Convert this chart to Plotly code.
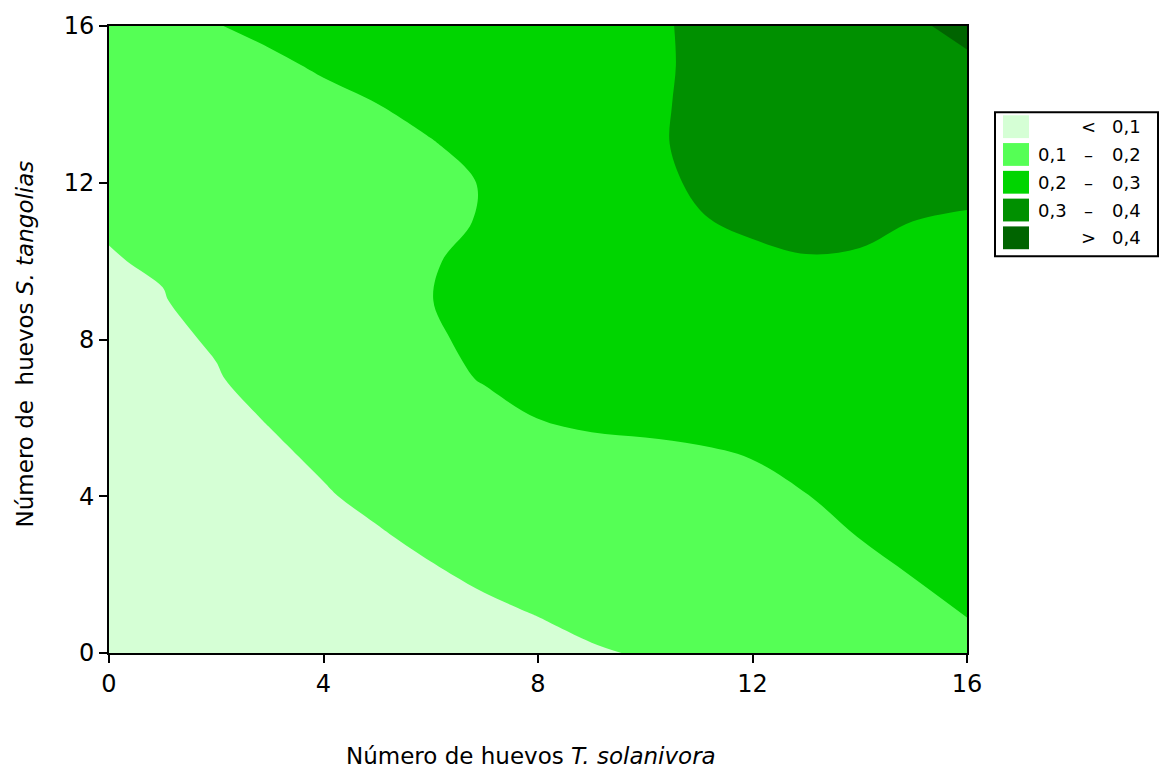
import plotly.graph_objects as go

# ---------------- data ----------------
x_vals = list(range(0, 17))          # Número de huevos T. solanivora
y_vals = list(range(0, 17))          # Número de huevos S. tangolias

z_y00 = [0.030,0.037,0.044,0.052,0.059,0.066,0.073,0.081,0.088,0.095,0.104,0.119,0.133,0.147,0.161,0.176,0.190]
z_y01 = [0.037,0.045,0.053,0.061,0.069,0.077,0.085,0.093,0.101,0.114,0.126,0.138,0.151,0.163,0.175,0.188,0.201]
z_y02 = [0.043,0.052,0.061,0.069,0.078,0.087,0.096,0.106,0.118,0.130,0.142,0.154,0.165,0.177,0.189,0.201,0.213]
z_y03 = [0.050,0.059,0.069,0.078,0.088,0.097,0.108,0.120,0.131,0.143,0.155,0.166,0.178,0.190,0.201,0.213,0.225]
z_y04 = [0.057,0.067,0.077,0.087,0.097,0.108,0.120,0.131,0.143,0.154,0.166,0.177,0.189,0.199,0.211,0.223,0.235]
z_y05 = [0.063,0.073,0.084,0.094,0.105,0.117,0.129,0.141,0.153,0.165,0.177,0.189,0.201,0.213,0.225,0.237,0.249]
z_y06 = [0.070,0.080,0.091,0.102,0.122,0.141,0.161,0.180,0.201,0.220,0.223,0.225,0.232,0.238,0.245,0.252,0.260]
z_y07 = [0.077,0.087,0.097,0.116,0.138,0.160,0.182,0.204,0.215,0.225,0.232,0.238,0.245,0.252,0.260,0.268,0.276]
z_y08 = [0.083,0.092,0.104,0.127,0.149,0.171,0.193,0.212,0.225,0.235,0.243,0.250,0.257,0.265,0.272,0.280,0.288]
z_y09 = [0.090,0.098,0.117,0.137,0.158,0.179,0.199,0.220,0.235,0.247,0.257,0.265,0.273,0.280,0.285,0.290,0.295]
z_y10 = [0.098,0.104,0.126,0.143,0.161,0.178,0.196,0.215,0.232,0.247,0.260,0.272,0.287,0.296,0.294,0.293,0.295]
z_y11 = [0.103,0.117,0.132,0.146,0.161,0.175,0.190,0.203,0.229,0.251,0.273,0.296,0.310,0.318,0.312,0.2995,0.290]
z_y12 = [0.110,0.123,0.136,0.149,0.163,0.176,0.189,0.202,0.230,0.256,0.282,0.308,0.322,0.330,0.332,0.330,0.323]
z_y13 = [0.118,0.131,0.144,0.158,0.171,0.184,0.197,0.219,0.243,0.267,0.290,0.312,0.330,0.340,0.345,0.348,0.350]
z_y14 = [0.127,0.142,0.156,0.171,0.185,0.1995,0.218,0.236,0.255,0.273,0.291,0.309,0.330,0.345,0.355,0.362,0.370]
z_y15 = [0.136,0.154,0.172,0.190,0.207,0.221,0.235,0.249,0.263,0.278,0.292,0.306,0.330,0.350,0.365,0.378,0.390]
z_y16 = [0.145,0.172,0.198,0.213,0.224,0.235,0.246,0.258,0.270,0.282,0.293,0.306,0.330,0.355,0.375,0.392,0.415]

z_grid = [z_y00, z_y01, z_y02, z_y03, z_y04, z_y05, z_y06, z_y07, z_y08,
          z_y09, z_y10, z_y11, z_y12, z_y13, z_y14, z_y15, z_y16]

levels = [0.1, 0.2, 0.3, 0.4]
band_colors = ["#D5FFD5", "#55FF55", "#00D500", "#009000", "#006400"]
legend_left = ["", "0,1", "0,2", "0,3", ""]
legend_op = ["<", "–", "–", "–", ">"]
legend_right = ["0,1", "0,2", "0,3", "0,4", "0,4"]
tick_vals = [0, 4, 8, 12, 16]
x_title = "Número de huevos <i>T. solanivora</i>"
y_title = "Número de  huevos <i>S. tangolias</i>"

# ---------------- figure ----------------
W, H = 1162, 778
L, R, T, B = 109, 967, 21, 653

def px_x(px):
    return (px - L) / (R - L)

def px_y(py):
    return (B - py) / (B - T)

zmin, zmax = 0.0, 0.5
n = len(band_colors)
cscale = []
for i, c in enumerate(band_colors):
    cscale.append([i / n, c])
    cscale.append([(i + 1) / n, c])

fig = go.Figure(go.Contour(
    x=x_vals, y=y_vals, z=z_grid,
    zauto=False, zmin=zmin, zmax=zmax,
    colorscale=cscale, showscale=False,
    contours=dict(start=levels[0], end=levels[-1], size=levels[1] - levels[0],
                  coloring="fill", showlines=False),
    line=dict(width=0, smoothing=1.0),
    hoverinfo="skip",
))

font_main = "DejaVu Sans"
axis_common = dict(
    range=[0, 16], tickvals=tick_vals, ticks="outside", ticklen=8, tickwidth=2,
    tickcolor="black", showline=True, linewidth=2, linecolor="black", mirror=True,
    showgrid=False, zeroline=False,
    tickfont=dict(family=font_main, size=24, color="black"),
)
fig.update_xaxes(**axis_common)
fig.update_yaxes(**axis_common)

shapes = []
annotations = []

# legend box
shapes.append(dict(type="rect", xref="paper", yref="paper",
                   x0=px_x(995), x1=px_x(1158), y0=px_y(253), y1=px_y(108),
                   line=dict(color="black", width=2), fillcolor="white", layer="above"))
row_tops = [111, 139, 167, 195, 223]
for i, c in enumerate(band_colors):
    t = row_tops[i]
    shapes.append(dict(type="rect", xref="paper", yref="paper",
                       x0=px_x(1003), x1=px_x(1029), y0=px_y(t + 23), y1=px_y(t),
                       line=dict(width=0), fillcolor=c, layer="above"))
    yc = px_y(t + 11.5)
    if legend_left[i]:
        annotations.append(dict(xref="paper", yref="paper", x=px_x(1069), y=yc,
                                text=legend_left[i], showarrow=False, xanchor="right",
                                yanchor="middle", font=dict(family=font_main, size=18, color="black")))
    annotations.append(dict(xref="paper", yref="paper", x=px_x(1088), y=yc,
                            text=legend_op[i], showarrow=False, xanchor="center",
                            yanchor="middle", font=dict(family=font_main, size=18, color="black")))
    annotations.append(dict(xref="paper", yref="paper", x=px_x(1143), y=yc,
                            text=legend_right[i], showarrow=False, xanchor="right",
                            yanchor="middle", font=dict(family=font_main, size=18, color="black")))

# axis titles
annotations.append(dict(xref="paper", yref="paper", x=px_x(531), y=px_y(757),
                        text=x_title, showarrow=False, xanchor="center", yanchor="middle",
                        font=dict(family=font_main, size=23, color="black")))
annotations.append(dict(xref="paper", yref="paper", x=px_x(25), y=px_y(342),
                        text=y_title, showarrow=False, xanchor="center", yanchor="middle",
                        textangle=-90, font=dict(family=font_main, size=23, color="black")))

fig.update_layout(
    width=W, height=H,
    margin=dict(l=L, r=W - R, t=T, b=H - B, pad=0),
    paper_bgcolor="white", plot_bgcolor="white",
    shapes=shapes, annotations=annotations,
    showlegend=False,
    font=dict(family=font_main, color="black"),
)

fig.write_html("out.html")
